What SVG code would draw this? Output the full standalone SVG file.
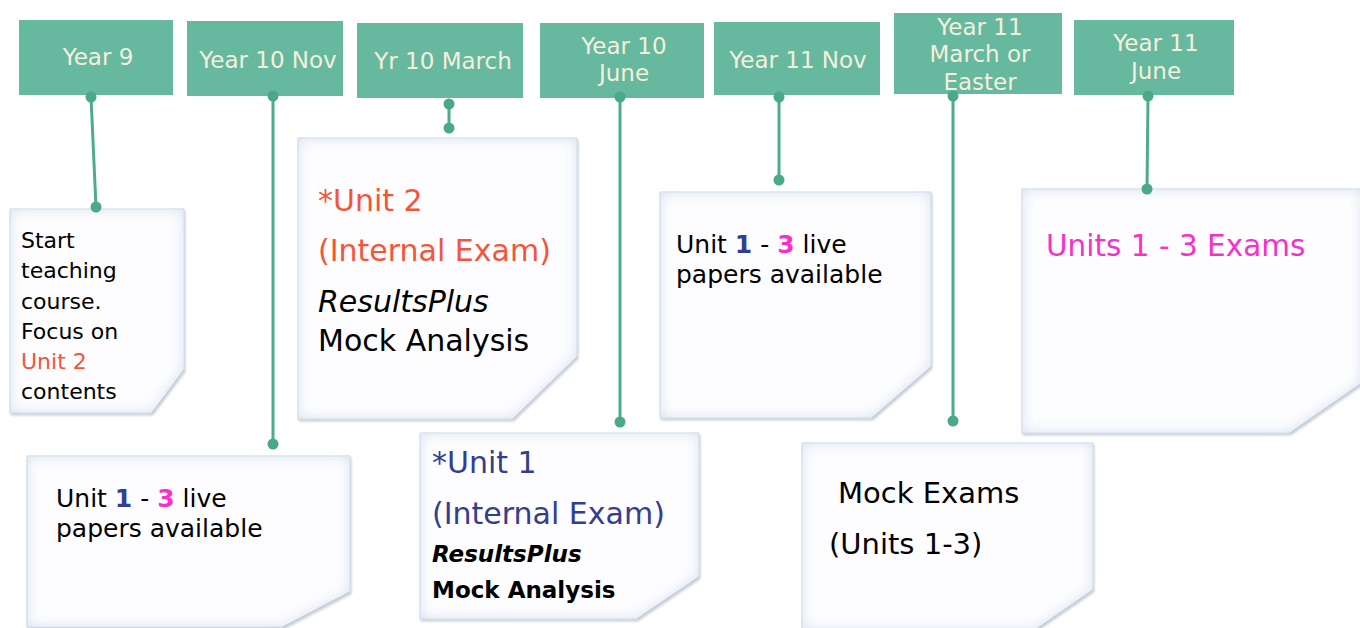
<svg xmlns="http://www.w3.org/2000/svg" width="1360" height="628" viewBox="0 0 1360 628">
<defs>
<filter id="paper" x="-10%" y="-10%" width="120%" height="120%" color-interpolation-filters="sRGB">
 <feGaussianBlur in="SourceAlpha" stdDeviation="1.2" result="b"/>
 <feOffset in="b" dx="1" dy="2" result="o"/>
 <feFlood flood-color="#8a9aaa" flood-opacity="0.45"/>
 <feComposite in2="o" operator="in" result="shadow"/>
 <feFlood flood-color="#d3dfec"/>
 <feComposite in2="SourceAlpha" operator="out"/>
 <feGaussianBlur stdDeviation="7"/>
 <feComposite in2="SourceAlpha" operator="in" result="inner"/>
 <feMerge><feMergeNode in="shadow"/><feMergeNode in="SourceGraphic"/><feMergeNode in="inner"/></feMerge>
</filter>
<style>
.hdr{fill:#66b89f}
.ht{font-family:"DejaVu Sans",Verdana,sans-serif;font-size:23px;fill:#f5f0dc;text-anchor:middle}
.note{fill:#fdfdff;stroke:#d4dee9;stroke-width:1;filter:url(#paper)}
.fold{fill:none;stroke:#bcc8d4;stroke-width:1}
.t{font-family:"DejaVu Sans",Verdana,sans-serif;fill:#000}
.red{fill:#f4553a}
.blue{fill:#333e8f}
.mag{fill:#f531c8}
.con line{stroke:#4eab8c;stroke-width:3}
.con circle{fill:#4aa98a}
</style>
</defs>

<g id="h-year9"><rect class="hdr" x="19" y="20" width="154" height="75"/><text class="ht" x="98" y="65">Year 9</text></g>
<g id="h-year10nov"><rect class="hdr" x="187" y="21" width="156" height="75"/><text class="ht" x="268" y="68">Year 10 Nov</text></g>
<g id="h-yr10march"><rect class="hdr" x="357" y="23" width="166" height="75"/><text class="ht" x="443" y="69">Yr 10 March</text></g>
<g id="h-year10june"><rect class="hdr" x="540" y="23" width="164" height="75"/><text class="ht" x="624" y="54">Year 10</text><text class="ht" x="624" y="81">June</text></g>
<g id="h-year11nov"><rect class="hdr" x="714" y="22" width="166" height="73"/><text class="ht" x="798" y="68">Year 11 Nov</text></g>
<g id="h-year11march"><rect class="hdr" x="894" y="13" width="168" height="81"/><text class="ht" x="980" y="35">Year 11</text><text class="ht" x="980" y="62">March or</text><text class="ht" x="980" y="90">Easter</text></g>
<g id="h-year11june"><rect class="hdr" x="1074" y="20" width="160" height="75"/><text class="ht" x="1156" y="51">Year 11</text><text class="ht" x="1156" y="79">June</text></g>

<g id="n-start">
<path class="note" d="M10,209 H184 V370 L152,413 H10 Z"/>
<path class="fold" d="M184,370 L152,413"/>
<text class="t" font-size="22"><tspan x="21" y="248">Start</tspan><tspan x="21" y="278">teaching</tspan><tspan x="21" y="309">course.</tspan><tspan x="21" y="339">Focus on</tspan><tspan x="21" y="369" class="red">Unit 2</tspan><tspan x="21" y="399">contents</tspan></text>
</g>

<g id="n-unit2">
<path class="note" d="M298,138 H577 V357 L513,419 H298 Z"/>
<path class="fold" d="M577,357 L513,419"/>
<text class="t red" font-size="30" x="318" y="211">*Unit 2</text>
<text class="t red" font-size="30" x="318" y="261">(Internal Exam)</text>
<text class="t" font-size="30" font-style="italic" x="318" y="312">ResultsPlus</text>
<text class="t" font-size="30" x="318" y="351">Mock Analysis</text>
</g>

<g id="n-live1">
<path class="note" d="M27,456 H350 V592 L283,627 H27 Z"/>
<path class="fold" d="M350,592 L283,627"/>
<text class="t" font-size="25" x="56" y="507">Unit <tspan class="blue" font-weight="bold">1</tspan> - <tspan class="mag" font-weight="bold">3</tspan> live</text>
<text class="t" font-size="25" x="56" y="537">papers available</text>
</g>

<g id="n-unit1">
<path class="note" d="M420,433 H699 V577 L637,619 H420 Z"/>
<path class="fold" d="M699,577 L637,619"/>
<text class="t blue" font-size="30" x="432" y="473">*Unit 1</text>
<text class="t blue" font-size="30" x="432" y="524">(Internal Exam)</text>
<text class="t" font-size="23" font-weight="bold" font-style="italic" x="432" y="562">ResultsPlus</text>
<text class="t" font-size="23" font-weight="bold" x="432" y="598">Mock Analysis</text>
</g>

<g id="n-live2">
<path class="note" d="M660,192 H931 V367 L872,418 H660 Z"/>
<path class="fold" d="M931,367 L872,418"/>
<text class="t" font-size="25" x="676" y="253">Unit <tspan class="blue" font-weight="bold">1</tspan> - <tspan class="mag" font-weight="bold">3</tspan> live</text>
<text class="t" font-size="25" x="676" y="283">papers available</text>
</g>

<g id="n-mock">
<path class="note" d="M802,443 H1093 V590 L1035,630 H802 Z"/>
<path class="fold" d="M1093,590 L1035,630"/>
<text class="t" font-size="29" x="838" y="503">Mock Exams</text>
<text class="t" font-size="29" x="829" y="554">(Units 1-3)</text>
</g>

<g id="n-exams">
<path class="note" d="M1022,189 H1362 V383 L1290,433 H1022 Z"/>
<path class="fold" d="M1362,383 L1290,433"/>
<text class="t mag" font-size="29.5" x="1046" y="256">Units 1 - 3 Exams</text>
</g>

<g id="connectors" class="con">
<line x1="91" y1="97" x2="96" y2="207"/><circle cx="91" cy="97" r="5.5"/><circle cx="96" cy="207" r="5.5"/>
<line x1="273" y1="96" x2="273" y2="444"/><circle cx="273" cy="96" r="5.5"/><circle cx="273" cy="444" r="5.5"/>
<line x1="449" y1="104" x2="449" y2="128"/><circle cx="449" cy="104" r="5.5"/><circle cx="449" cy="128" r="5.5"/>
<line x1="620" y1="97" x2="620" y2="422"/><circle cx="620" cy="97" r="5.5"/><circle cx="620" cy="422" r="5.5"/>
<line x1="779" y1="97" x2="779" y2="180"/><circle cx="779" cy="97" r="5.5"/><circle cx="779" cy="180" r="5.5"/>
<line x1="953" y1="96" x2="953" y2="421"/><circle cx="953" cy="96" r="5.5"/><circle cx="953" cy="421" r="5.5"/>
<line x1="1148" y1="96" x2="1147" y2="189"/><circle cx="1148" cy="96" r="5.5"/><circle cx="1147" cy="189" r="5.5"/>
</g>
</svg>
